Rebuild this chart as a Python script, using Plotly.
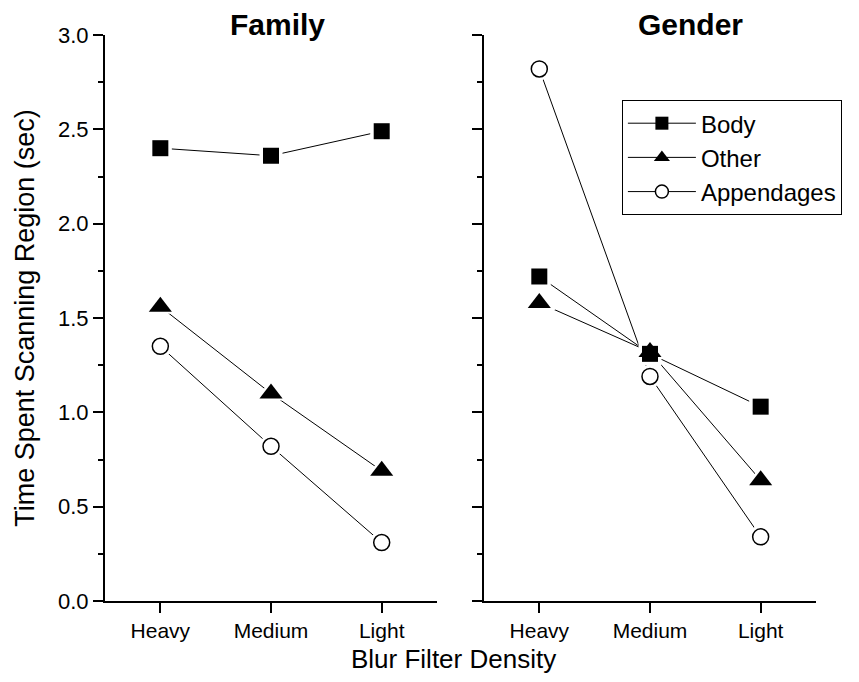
import plotly.graph_objects as go

categories = ["Heavy", "Medium", "Light"]
x_pos = [0, 1, 2]
series_names = ["Body", "Other", "Appendages"]

family_body = [2.40, 2.36, 2.49]
family_other = [1.56, 1.10, 0.69]
family_append = [1.35, 0.82, 0.31]

gender_body = [1.72, 1.31, 1.03]
gender_other = [1.58, 1.32, 0.64]
gender_append = [2.82, 1.19, 0.34]

y_ticks = [0.0, 0.5, 1.0, 1.5, 2.0, 2.5, 3.0]
y_ticktext = ["0.0", "0.5", "1.0", "1.5", "2.0", "2.5", "3.0"]

FONT = "Liberation Sans, Arial, Helvetica, sans-serif"

styles = {
    "Body": dict(symbol="square", size=16, color="black", line=dict(color="black", width=0)),
    "Other": dict(symbol="triangle-up", size=20, color="black", line=dict(color="black", width=0)),
    "Appendages": dict(symbol="circle", size=16, color="white", line=dict(color="black", width=1.5)),
}
legend_size = {"Body": 13, "Other": 14, "Appendages": 13}
halo_extra = {"Body": 7, "Other": 8, "Appendages": 7}
rank = {"Body": 1, "Other": 2, "Appendages": 3}

panels = [
    ("x", "y", {"Body": family_body, "Other": family_other, "Appendages": family_append}, True),
    ("x2", "y2", {"Body": gender_body, "Other": gender_other, "Appendages": gender_append}, False),
]

fig = go.Figure()

# lines (+ legend entries)
for xa, ya, data, show in panels:
    for name in series_names:
        st = styles[name]
        fig.add_trace(go.Scatter(
            x=x_pos, y=data[name], xaxis=xa, yaxis=ya, mode="lines+markers",
            name=name, legendgroup=name, showlegend=show, legendrank=rank[name],
            line=dict(color="black", width=1),
            marker=dict(symbol=st["symbol"], size=legend_size[name],
                        color=st["color"], line=st["line"]),
            hoverinfo="skip"))
# white halos to create gaps between lines and markers
for xa, ya, data, show in panels:
    for name in series_names:
        st = styles[name]
        fig.add_trace(go.Scatter(
            x=x_pos, y=data[name], xaxis=xa, yaxis=ya, mode="markers",
            showlegend=False, legendgroup=name,
            marker=dict(symbol=st["symbol"], size=st["size"] + halo_extra[name],
                        color="white", line=dict(width=0)),
            hoverinfo="skip"))
# markers on top
for xa, ya, data, show in panels:
    for name in ["Appendages", "Other", "Body"]:
        st = styles[name]
        fig.add_trace(go.Scatter(
            x=x_pos, y=data[name], xaxis=xa, yaxis=ya, mode="markers",
            showlegend=False, legendgroup=name,
            marker=dict(symbol=st["symbol"], size=st["size"], color=st["color"], line=st["line"]),
            hoverinfo="skip"))

xcommon = dict(range=[-0.5, 2.5], tickvals=x_pos, ticktext=categories,
               showline=True, linecolor="black", linewidth=2,
               ticks="outside", ticklen=10, tickwidth=2, tickcolor="black",
               showgrid=False, zeroline=False,
               tickfont=dict(family=FONT, size=21, color="black"))
ycommon = dict(range=[0, 3], tickvals=y_ticks, ticktext=y_ticktext,
               showline=True, linecolor="black", linewidth=2,
               ticks="outside", ticklen=10, tickwidth=2, tickcolor="black",
               minor=dict(dtick=0.25, ticks="outside", ticklen=5, tickwidth=2, tickcolor="black"),
               showgrid=False, zeroline=False,
               tickfont=dict(family=FONT, size=22, color="black"))

fig.update_layout(
    width=859, height=682,
    margin=dict(l=97, r=51, t=27, b=89),
    paper_bgcolor="white", plot_bgcolor="white",
    font=dict(family=FONT, color="black"),
    xaxis=dict(domain=[0, 0.467], anchor="y", **xcommon),
    xaxis2=dict(domain=[0.533, 1], anchor="y2", **xcommon),
    yaxis=dict(anchor="x",
               title=dict(text="Time Spent Scanning Region (sec)",
                          font=dict(family=FONT, size=27, color="black"), standoff=16),
               **ycommon),
    yaxis2=dict(anchor="x2", showticklabels=False, **ycommon),
    legend=dict(x=0.727, y=0.885, xanchor="left", yanchor="top",
                bordercolor="black", borderwidth=1, bgcolor="white",
                font=dict(family=FONT, size=24, color="black"),
                itemwidth=68, tracegroupgap=0),
    showlegend=True,
    annotations=[
        dict(text="<b>Family</b>", x=0.2433, y=1, xref="paper", yref="paper",
             xanchor="center", yanchor="bottom", yshift=-8, showarrow=False,
             font=dict(family=FONT, size=30, color="black")),
        dict(text="<b>Gender</b>", x=0.8228, y=1, xref="paper", yref="paper",
             xanchor="center", yanchor="bottom", yshift=-8, showarrow=False,
             font=dict(family=FONT, size=30, color="black")),
        dict(text="Blur Filter Density", x=0.49, y=-0.103, xref="paper", yref="paper",
             xanchor="center", yanchor="middle", showarrow=False,
             font=dict(family=FONT, size=26, color="black")),
    ],
)

fig.write_html("out.html")
